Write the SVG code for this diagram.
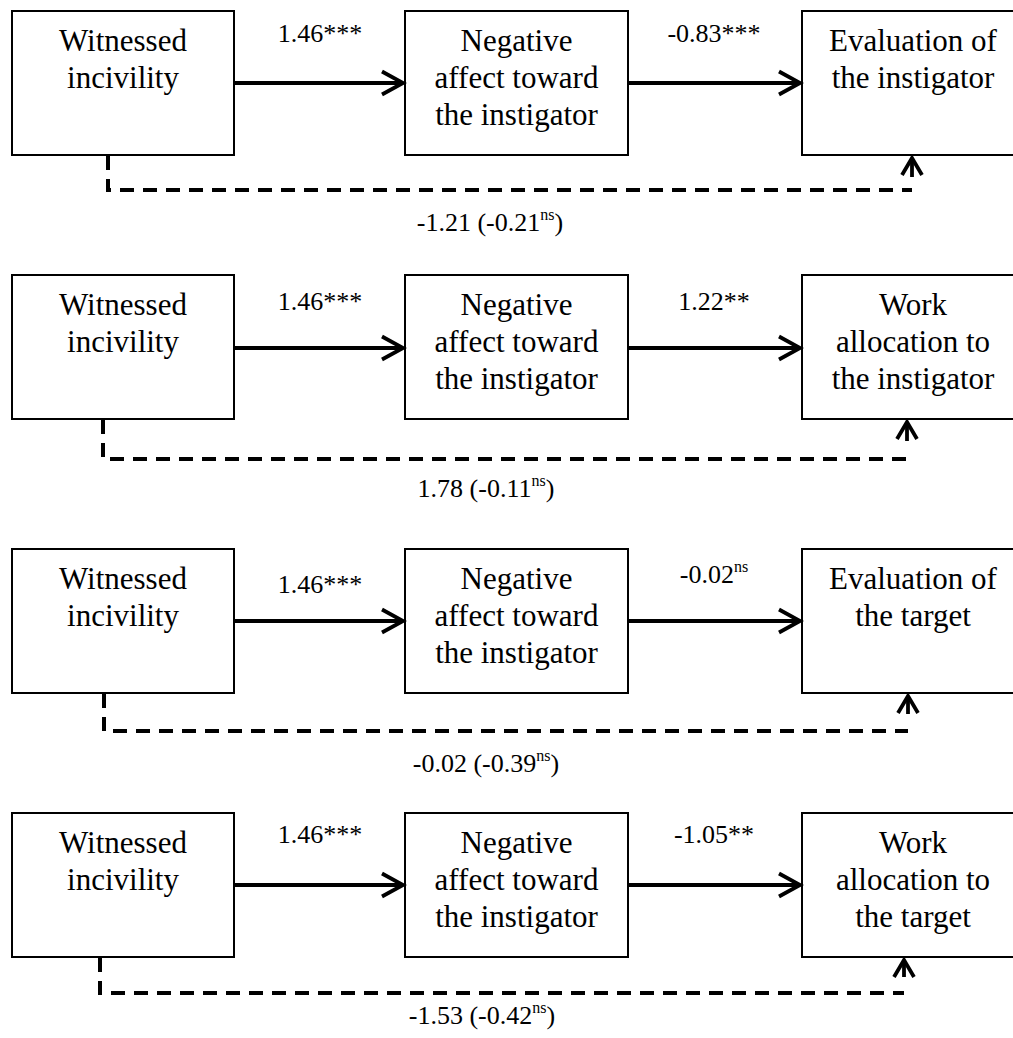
<svg xmlns="http://www.w3.org/2000/svg" width="1013" height="1038" viewBox="0 0 1013 1038">
<defs>
<style>
.box{fill:#fff;stroke:#000;stroke-width:2}
.bt{font-family:"Liberation Serif","Times New Roman",serif;font-size:31px;text-anchor:middle;fill:#000}
.lb{font-family:"Liberation Serif","Times New Roman",serif;font-size:26px;text-anchor:middle;fill:#000}
.sup{font-size:16px}
.solid{fill:none;stroke:#000;stroke-width:3.8}
.dash{fill:none;stroke:#000;stroke-width:4;stroke-dasharray:14 9}
</style>
<marker id="ah" markerUnits="userSpaceOnUse" viewBox="-24 -14 28 28" markerWidth="28" markerHeight="28" refX="0" refY="0" orient="auto" overflow="visible">
<path d="M-21,-11.5 L0,0 L-21,11.5" fill="none" stroke="#000" stroke-width="3.8"/>
</marker>
<marker id="au" markerUnits="userSpaceOnUse" viewBox="-24 -14 28 28" markerWidth="28" markerHeight="28" refX="0" refY="0" orient="auto" overflow="visible">
<path d="M-17,-10 L0,0 L-17,10" fill="none" stroke="#000" stroke-width="3.8"/>
</marker>
</defs>

<!-- Panel 1 -->
<g id="p1-witnessed"><rect class="box" x="12" y="11" width="222" height="144"/><text class="bt" x="123" y="51">Witnessed</text><text class="bt" x="123" y="88">incivility</text></g>
<g id="p1-negative"><rect class="box" x="405" y="11" width="223" height="144"/><text class="bt" x="516.5" y="51">Negative</text><text class="bt" x="516.5" y="88">affect toward</text><text class="bt" x="516.5" y="125">the instigator</text></g>
<g id="p1-outcome"><rect class="box" x="802" y="11" width="222" height="144"/><text class="bt" x="913" y="51">Evaluation of</text><text class="bt" x="913" y="88">the instigator</text></g>
<g id="p1-connectors">
<line class="solid" x1="234" y1="83" x2="403" y2="83" marker-end="url(#ah)"/>
<line class="solid" x1="628" y1="83" x2="800" y2="83" marker-end="url(#ah)"/>
<path class="dash" d="M108,156 V190 H912"/>
<path class="solid" d="M912,177 V158" marker-end="url(#au)"/>
<text class="lb" x="320" y="42">1.46***</text>
<text class="lb" x="714" y="42">-0.83***</text>
<text class="lb" x="490" y="231">-1.21 (-0.21<tspan class="sup" dy="-11">ns</tspan><tspan dy="11">)</tspan></text>
</g>

<!-- Panel 2 -->
<g id="p2-witnessed"><rect class="box" x="12" y="275" width="222" height="144"/><text class="bt" x="123" y="315">Witnessed</text><text class="bt" x="123" y="352">incivility</text></g>
<g id="p2-negative"><rect class="box" x="405" y="275" width="223" height="144"/><text class="bt" x="516.5" y="315">Negative</text><text class="bt" x="516.5" y="352">affect toward</text><text class="bt" x="516.5" y="389">the instigator</text></g>
<g id="p2-outcome"><rect class="box" x="802" y="275" width="222" height="144"/><text class="bt" x="913" y="315">Work</text><text class="bt" x="913" y="352">allocation to</text><text class="bt" x="913" y="389">the instigator</text></g>
<g id="p2-connectors">
<line class="solid" x1="234" y1="348" x2="403" y2="348" marker-end="url(#ah)"/>
<line class="solid" x1="628" y1="348" x2="800" y2="348" marker-end="url(#ah)"/>
<path class="dash" d="M103,420 V459 H907"/>
<path class="solid" d="M907,441 V422" marker-end="url(#au)"/>
<text class="lb" x="320" y="310">1.46***</text>
<text class="lb" x="714" y="310">1.22**</text>
<text class="lb" x="486" y="497">1.78 (-0.11<tspan class="sup" dy="-11">ns</tspan><tspan dy="11">)</tspan></text>
</g>

<!-- Panel 3 -->
<g id="p3-witnessed"><rect class="box" x="12" y="549" width="222" height="144"/><text class="bt" x="123" y="589">Witnessed</text><text class="bt" x="123" y="626">incivility</text></g>
<g id="p3-negative"><rect class="box" x="405" y="549" width="223" height="144"/><text class="bt" x="516.5" y="589">Negative</text><text class="bt" x="516.5" y="626">affect toward</text><text class="bt" x="516.5" y="663">the instigator</text></g>
<g id="p3-outcome"><rect class="box" x="802" y="549" width="222" height="144"/><text class="bt" x="913" y="589">Evaluation of</text><text class="bt" x="913" y="626">the target</text></g>
<g id="p3-connectors">
<line class="solid" x1="234" y1="621" x2="403" y2="621" marker-end="url(#ah)"/>
<line class="solid" x1="628" y1="621" x2="800" y2="621" marker-end="url(#ah)"/>
<path class="dash" d="M104,694 V731 H908"/>
<path class="solid" d="M908,714 V696" marker-end="url(#au)"/>
<text class="lb" x="320" y="593">1.46***</text>
<text class="lb" x="714" y="583">-0.02<tspan class="sup" dy="-11">ns</tspan></text>
<text class="lb" x="486" y="772">-0.02 (-0.39<tspan class="sup" dy="-11">ns</tspan><tspan dy="11">)</tspan></text>
</g>

<!-- Panel 4 -->
<g id="p4-witnessed"><rect class="box" x="12" y="813" width="222" height="144"/><text class="bt" x="123" y="853">Witnessed</text><text class="bt" x="123" y="890">incivility</text></g>
<g id="p4-negative"><rect class="box" x="405" y="813" width="223" height="144"/><text class="bt" x="516.5" y="853">Negative</text><text class="bt" x="516.5" y="890">affect toward</text><text class="bt" x="516.5" y="927">the instigator</text></g>
<g id="p4-outcome"><rect class="box" x="802" y="813" width="222" height="144"/><text class="bt" x="913" y="853">Work</text><text class="bt" x="913" y="890">allocation to</text><text class="bt" x="913" y="927">the target</text></g>
<g id="p4-connectors">
<line class="solid" x1="234" y1="885" x2="403" y2="885" marker-end="url(#ah)"/>
<line class="solid" x1="628" y1="885" x2="800" y2="885" marker-end="url(#ah)"/>
<path class="dash" d="M100,958 V993 H904"/>
<path class="solid" d="M904,977 V960" marker-end="url(#au)"/>
<text class="lb" x="320" y="843">1.46***</text>
<text class="lb" x="714" y="843">-1.05**</text>
<text class="lb" x="482" y="1024">-1.53 (-0.42<tspan class="sup" dy="-11">ns</tspan><tspan dy="11">)</tspan></text>
</g>
</svg>
